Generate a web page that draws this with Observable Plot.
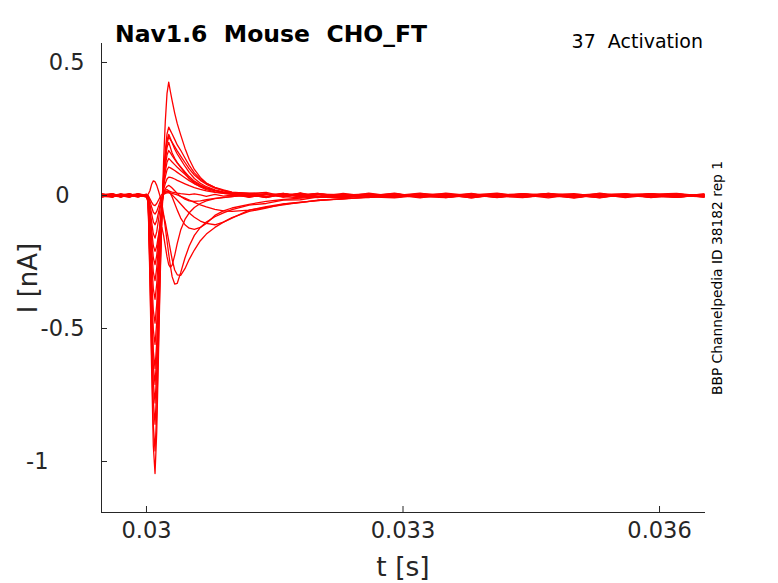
<!DOCTYPE html>
<html><head><meta charset="utf-8">
<script src="https://cdn.jsdelivr.net/npm/d3@7"></script>
<script src="https://cdn.jsdelivr.net/npm/@observablehq/plot@0.6"></script>
<style>html,body{margin:0;padding:0;background:#fff;} #chart{width:778px;height:583px;}</style>
</head><body><div id="chart"></div>
<script>
// time grid (s)
const t = [0.02948, 0.0296, 0.0297, 0.0298, 0.0299, 0.03,
  0.03002, 0.03004, 0.03006, 0.03008, 0.0301, 0.03012, 0.03014, 0.03016, 0.03018, 0.0302,
  0.03022, 0.03024, 0.03026, 0.03028, 0.0303, 0.03033, 0.03036, 0.0304, 0.03045, 0.0305,
  0.03056, 0.03063, 0.0307, 0.0308, 0.0309, 0.031,
  0.0312, 0.0314, 0.0316, 0.0318, 0.032, 0.0323, 0.0326, 0.0329, 0.0332, 0.0335,
  0.0338, 0.0341, 0.0344, 0.0347, 0.035, 0.0353, 0.0356, 0.0359, 0.0362, 0.03652];

// current sweeps (nA), one value per time point
const sweep01 = [0.004, -0.003, 0.006, -0.002, 0.005, 0.001,
  -0.031, -0.314, -0.648, -0.941, -1.045, -0.888, -0.606, -0.314, -0.084,
  0.06, 0.13, 0.18, 0.20,
  0.18, 0.16, 0.14, 0.124, 0.106, 0.084, 0.064, 0.046, 0.032, 0.022, 0.014, 0.008, 0.004,
  0.006, -0.004, 0.008, -0.006, 0.002, -0.009, 0.005, -0.003, 0.007, -0.008, 0.001, 0.009, -0.005, 0.003, -0.010, 0.004, -0.002, 0.006, -0.007, 0.002];
const sweep02 = [-0.005, 0.003, -0.001, 0.007, -0.004, 0.002,
  -0.029, -0.288, -0.595, -0.864, -0.96, -0.816, -0.557, -0.288, -0.077,
  0.077, 0.167, 0.231, 0.257,
  0.244, 0.231, 0.211, 0.19, 0.17, 0.141, 0.113, 0.085, 0.062, 0.046, 0.031, 0.021, 0.013,
  0.008, 0.012, -0.003, 0.005, -0.007, 0.004, -0.002, 0.009, -0.006, 0.003, -0.009, 0.002, 0.006, -0.004, 0.001, -0.008, 0.005, -0.003, 0.004, -0.006];
const sweep03 = [0.002, -0.006, 0.004, 0.000, -0.003, 0.005,
  -0.026, -0.258, -0.533, -0.774, -0.86, -0.731, -0.499, -0.258, -0.069,
  0.128, 0.277, 0.383, 0.426,
  0.39, 0.357, 0.31, 0.27, 0.228, 0.178, 0.136, 0.098, 0.068, 0.047, 0.03, 0.017, 0.009,
  0.004, -0.006, 0.007, 0.001, -0.005, 0.008, -0.003, 0.002, -0.009, 0.005, -0.001, 0.006, -0.007, 0.003, 0.007, -0.004, 0.000, -0.006, 0.004, -0.003];
const sweep04 = [-0.003, 0.005, -0.006, 0.003, 0.001, -0.004,
  -0.023, -0.234, -0.484, -0.702, -0.78, -0.663, -0.452, -0.234, -0.062,
  0.069, 0.15, 0.207, 0.23,
  0.214, 0.198, 0.175, 0.156, 0.136, 0.11, 0.087, 0.064, 0.046, 0.033, 0.021, 0.013, 0.007,
  -0.002, 0.007, -0.005, 0.010, -0.004, 0.001, 0.006, -0.007, 0.003, -0.002, 0.008, -0.006, 0.002, -0.009, 0.004, 0.001, -0.005, 0.007, -0.003, 0.000];
const sweep05 = [0.006, -0.002, 0.003, -0.005, 0.004, -0.001,
  -0.021, -0.213, -0.44, -0.639, -0.71, -0.604, -0.412, -0.213, -0.057,
  0.066, 0.142, 0.197, 0.219,
  0.21, 0.2, 0.184, 0.168, 0.148, 0.124, 0.1, 0.077, 0.057, 0.042, 0.028, 0.019, 0.012,
  0.009, 0.004, -0.006, 0.003, 0.008, -0.004, 0.001, -0.007, 0.006, -0.002, 0.004, -0.008, 0.005, 0.002, -0.006, 0.009, -0.003, 0.001, -0.005, 0.004];
const sweep06 = [-0.001, 0.004, -0.005, 0.006, -0.002, 0.003,
  -0.02, -0.195, -0.403, -0.585, -0.65, -0.553, -0.377, -0.195, -0.052,
  0.051, 0.11, 0.152, 0.169,
  0.16, 0.15, 0.136, 0.122, 0.107, 0.089, 0.071, 0.054, 0.04, 0.029, 0.019, 0.012, 0.006,
  0.003, -0.008, 0.005, -0.001, 0.007, -0.005, 0.009, -0.003, 0.000, 0.006, -0.007, 0.004, -0.002, 0.008, -0.004, 0.002, 0.006, -0.008, 0.003, -0.001];
const sweep07 = [0.003, -0.004, 0.001, -0.006, 0.007, -0.002,
  -0.017, -0.168, -0.347, -0.504, -0.56, -0.476, -0.325, -0.168, -0.045,
  0.042, 0.09, 0.125, 0.139,
  0.133, 0.126, 0.116, 0.106, 0.094, 0.08, 0.065, 0.05, 0.037, 0.028, 0.019, 0.012, 0.007,
  -0.005, 0.002, 0.008, -0.006, 0.004, 0.000, -0.008, 0.006, -0.003, 0.009, -0.001, -0.005, 0.003, 0.006, -0.007, 0.002, -0.004, 0.005, 0.008, -0.002];
const sweep08 = [-0.004, 0.001, 0.005, -0.003, 0.002, -0.006,
  -0.014, -0.144, -0.298, -0.432, -0.48, -0.408, -0.278, -0.144, -0.038,
  0.032, 0.07, 0.096, 0.107,
  0.104, 0.1, 0.094, 0.087, 0.078, 0.067, 0.056, 0.044, 0.034, 0.026, 0.018, 0.012, 0.007,
  0.001, 0.006, -0.004, -0.009, 0.005, 0.003, -0.002, 0.007, -0.006, 0.001, 0.005, -0.003, -0.008, 0.004, 0.000, 0.007, -0.005, 0.002, -0.004, 0.006];
const sweep09 = [0.005, 0.000, -0.004, 0.004, -0.005, 0.002,
  -0.012, -0.117, -0.242, -0.351, -0.39, -0.332, -0.226, -0.117, -0.031,
  0.021, 0.045, 0.062, 0.069,
  0.068, 0.066, 0.062, 0.057, 0.051, 0.044, 0.037, 0.03, 0.023, 0.017, 0.012, 0.008, 0.005,
  -0.007, 0.004, 0.001, 0.008, -0.003, -0.006, 0.005, -0.001, 0.009, -0.004, 0.002, -0.007, 0.006, -0.002, 0.003, -0.009, 0.004, 0.007, -0.005, 0.001];
const sweep10 = [-0.002, 0.006, -0.003, 0.001, 0.004, -0.005,
  -0.01, -0.096, -0.198, -0.288, -0.32, -0.272, -0.186, -0.096, -0.026,
  0.012, 0.025, 0.034, 0.038,
  0.034, 0.028, 0.018, 0.008, -0.004, -0.014, -0.02, -0.022, -0.02, -0.016, -0.011, -0.007, -0.004,
  0.003, -0.006, 0.007, -0.002, -0.008, 0.004, 0.001, -0.005, 0.006, 0.002, -0.009, 0.005, -0.003, 0.008, -0.001, -0.006, 0.003, 0.000, 0.006, -0.004];
const sweep11 = [0.004, -0.001, -0.005, 0.002, 0.006, -0.003,
  0.005, 0.018, 0.042, 0.055, 0.052, 0.038, 0.018, -0.004, -0.03,
  -0.07, -0.12, -0.17, -0.22,
  -0.265, -0.305, -0.333, -0.33, -0.29, -0.235, -0.19, -0.15, -0.12, -0.1, -0.08, -0.065, -0.053,
  -0.036, -0.03, -0.017, -0.016, -0.006, -0.009, 0.002, -0.004, 0.005, -0.007, 0.003, -0.002, 0.006, -0.005, 0.001, 0.004, -0.008, 0.002, -0.003, 0.005];
const sweep12 = [-0.006, 0.004, 0.000, -0.003, 0.005, 0.002,
  -0.008, -0.078, -0.161, -0.234, -0.26, -0.225, -0.16, -0.1, -0.07,
  -0.075, -0.1, -0.135, -0.17,
  -0.205, -0.24, -0.28, -0.298, -0.3, -0.275, -0.24, -0.205, -0.17, -0.145, -0.12, -0.1, -0.083,
  -0.06, -0.047, -0.032, -0.027, -0.017, -0.014, -0.005, -0.009, 0.001, -0.004, 0.006, -0.006, 0.002, -0.001, -0.007, 0.004, 0.000, -0.005, 0.003, -0.002];
const sweep13 = [0.003, -0.005, 0.002, 0.006, -0.003, 0.000,
  -0.006, -0.063, -0.13, -0.189, -0.21, -0.19, -0.15, -0.12, -0.12,
  -0.15, -0.19, -0.23, -0.26,
  -0.27, -0.262, -0.225, -0.18, -0.13, -0.09, -0.065, -0.045, -0.03, -0.02, -0.012, -0.008, -0.004,
  0.002, -0.007, 0.004, -0.003, 0.008, -0.005, 0.001, 0.006, -0.004, -0.008, 0.003, 0.005, -0.002, 0.007, -0.006, 0.000, 0.004, -0.003, -0.007, 0.003];
const sweep14 = [0.002, 0.006, -0.004, 0.001, -0.006, 0.004,
  -0.005, -0.048, -0.099, -0.144, -0.16, -0.136, -0.093, -0.048, -0.012,
  0.01, 0.02, 0.022, 0.018,
  0.008, -0.006, -0.03, -0.055, -0.085, -0.11, -0.123, -0.127, -0.12, -0.105, -0.075, -0.058, -0.047,
  -0.033, -0.022, -0.015, -0.01, -0.004, -0.008, 0.003, -0.005, 0.002, 0.006, -0.006, 0.001, -0.003, 0.005, -0.008, 0.004, 0.001, -0.004, 0.007, -0.006];
const sweep15 = [-0.003, -0.006, 0.005, 0.002, -0.001, -0.004,
  -0.003, -0.033, -0.068, -0.099, -0.11, -0.094, -0.064, -0.033, -0.008,
  0.006, 0.012, 0.014, 0.012,
  0.008, 0.002, -0.008, -0.018, -0.032, -0.05, -0.066, -0.082, -0.096, -0.105, -0.11, -0.1, -0.085,
  -0.055, -0.042, -0.032, -0.025, -0.019, -0.012, -0.007, -0.002, 0.004, -0.006, 0.002, -0.004, 0.007, -0.002, -0.005, 0.003, 0.006, -0.007, 0.001, -0.003];
const sweep16 = [0.005, 0.002, -0.001, -0.006, 0.003, 0.001,
  -0.002, -0.021, -0.043, -0.063, -0.07, -0.06, -0.041, -0.021, -0.005,
  0.004, 0.008, 0.01, 0.01,
  0.009, 0.008, 0.005, 0.002, -0.003, -0.01, -0.017, -0.026, -0.035, -0.043, -0.052, -0.058, -0.06,
  -0.055, -0.045, -0.035, -0.026, -0.019, -0.012, -0.007, 0.001, -0.005, 0.004, -0.002, 0.006, -0.006, 0.000, 0.003, -0.004, 0.005, -0.001, -0.006, 0.002];
const sweep17 = [0.001, 0.007, -0.002, -0.004, 0.003, -0.001,
  0.0, -0.012, -0.025, -0.035, -0.038, -0.03, -0.018, -0.006, 0.004,
  0.01, 0.014, 0.016, 0.016,
  0.015, 0.013, 0.011, 0.009, 0.007, 0.005, 0.003, 0.006, 0.002, -0.003, 0.004, -0.002, 0.001,
  -0.004, 0.005, -0.002, 0.008, -0.006, 0.003, -0.001, -0.007, 0.005, 0.001, -0.004, 0.007, -0.003, 0.002, -0.006, 0.005, -0.002, 0.004, 0.000, -0.005];

const sweeps = [sweep01, sweep02, sweep03, sweep04, sweep05, sweep06, sweep07, sweep08, sweep09,
  sweep10, sweep11, sweep12, sweep13, sweep14, sweep15, sweep16, sweep17];

const xTicks = [0.03, 0.033, 0.036];
const yTicks = [0.5, 0, -0.5, -1];
const xDomain = [0.029474, 0.036526];
const yDomain = [-1.1917, 0.5714];
const titleText = "Nav1.6  Mouse  CHO_FT";
const protocolText = "37  Activation";
const sourceText = "BBP Channelpedia ID 38182 rep 1";
const xLabel = "t [s]";
const yLabel = "I [nA]";

const rows = [];
sweeps.forEach((s, k) => s.forEach((v, i) => { if (i < t.length) rows.push({sweep: k, t: t[i], I: v}); }));

const axisColor = "#262626";
const W = 778, H = 583, mL = 101, mR = 74, mT = 43, mB = 71;

const chart = Plot.plot({
  width: W, height: H,
  marginLeft: mL, marginRight: mR, marginTop: mT, marginBottom: mB,
  style: {fontFamily: "'DejaVu Sans', sans-serif", fontSize: "22.5px", color: axisColor, background: "#fff", overflow: "visible"},
  x: {domain: xDomain},
  y: {domain: yDomain},
  marks: [
    Plot.line(rows, {x: "t", y: "I", z: "sweep", stroke: "#ff0000", strokeWidth: 1.3}),
    Plot.frame({anchor: "left", stroke: axisColor}),
    Plot.frame({anchor: "bottom", stroke: axisColor}),
    Plot.axisX({ticks: xTicks, tickFormat: d => String(d), tickSize: -6, tickPadding: 16, label: null, stroke: axisColor, fill: axisColor}),
    Plot.axisY({ticks: yTicks, tickFormat: d => String(d), tickSize: -6, tickPadding: 23, label: null, stroke: axisColor, fill: axisColor})
  ]
});

const svg = d3.select(chart);
// MATLAB-style uneven label alignment seen in the reference (styling only)
const yLabelShift = {"0": -15, "-1": -36};
svg.selectAll("g[aria-label='y-axis tick label'] text").each(function() {
  const s = yLabelShift[this.textContent];
  if (s) d3.select(this).attr("dx", s);
});
svg.append("text").attr("x", 115).attr("y", 42).attr("text-anchor", "start")
  .attr("font-size", "23.5px").attr("font-weight", "bold").attr("fill", "#000")
  .style("white-space", "pre").text(titleText);
svg.append("text").attr("x", 703).attr("y", 48).attr("text-anchor", "end")
  .attr("font-size", "19px").attr("fill", "#000")
  .style("white-space", "pre").text(protocolText);
svg.append("text").attr("transform", "translate(722,278) rotate(-90)").attr("text-anchor", "middle")
  .attr("font-size", "13.8px").attr("fill", "#000").text(sourceText);
svg.append("text").attr("transform", "translate(37,278) rotate(-90)").attr("text-anchor", "middle")
  .attr("font-size", "26px").attr("fill", axisColor).text(yLabel);
svg.append("text").attr("x", 403).attr("y", 576).attr("text-anchor", "middle")
  .attr("font-size", "26.5px").attr("fill", axisColor).text(xLabel);

document.getElementById("chart").appendChild(chart);
</script>
</body></html>
